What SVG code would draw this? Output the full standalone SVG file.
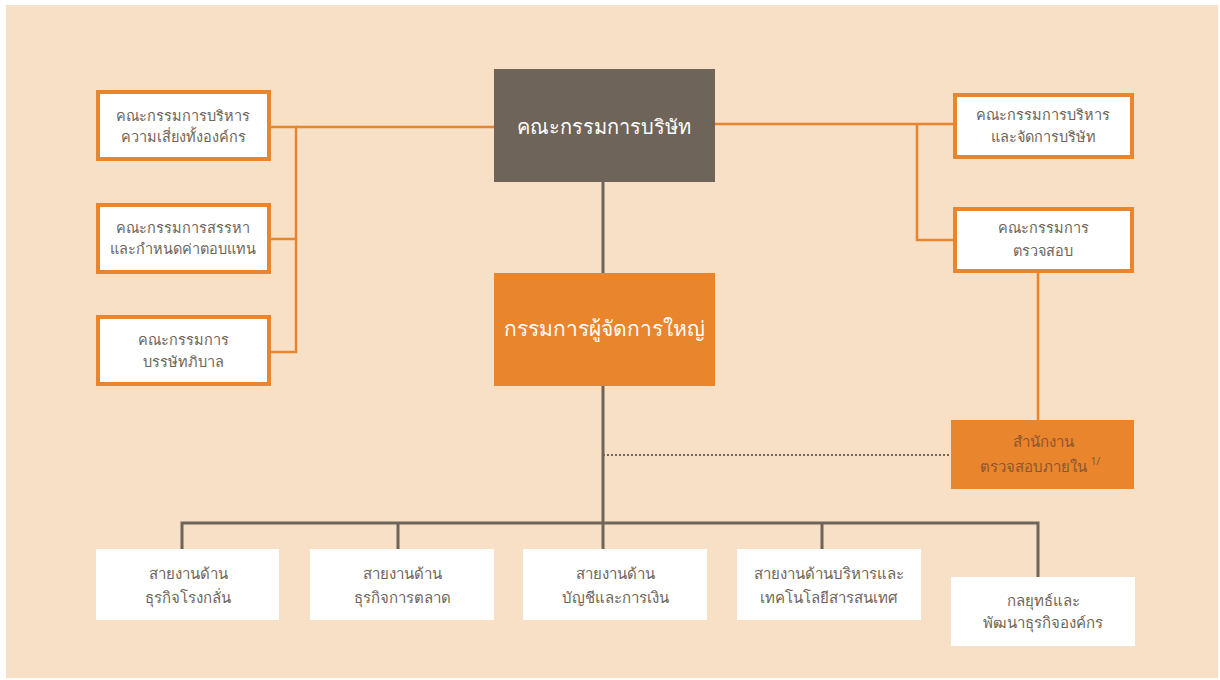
<svg xmlns="http://www.w3.org/2000/svg" width="1220" height="680" viewBox="0 0 1220 680">
<style>
.t{font-family:"Noto Sans","DejaVu Sans",sans-serif;text-anchor:middle;}
.s{font-size:14.5px;fill:#6E645A;}
.b{font-size:15px;fill:#6E645A;}
.a{font-size:15px;fill:#8C5530;}
.big{font-size:20px;fill:#ffffff;}
.ob{fill:#ffffff;stroke:#E9852D;stroke-width:4;}
.wb{fill:#ffffff;}
.gl{stroke:#6E645A;stroke-width:3;fill:none;}
.ol{stroke:#E9852D;stroke-width:2.5;fill:none;}
</style>
<rect x="0" y="0" width="1220" height="680" fill="#ffffff"/>
<rect x="6" y="5" width="1212" height="673" fill="#F8E0C6"/>
<g id="connectors">
<polyline class="ol" points="269,127 296,127 296,352 269,352"/>
<line class="ol" x1="269" y1="239" x2="296" y2="239"/>
<line class="ol" x1="296" y1="127" x2="494" y2="127"/>
<line class="ol" x1="715" y1="124" x2="953" y2="124"/>
<polyline class="ol" points="917,124 917,240 953,240"/>
<line class="ol" x1="1038" y1="272" x2="1038" y2="420"/>
<line class="gl" x1="603" y1="182" x2="603" y2="273"/>
<line class="gl" x1="603" y1="386" x2="603" y2="549"/>
<line x1="603" y1="455" x2="951" y2="455" stroke="#6E645A" stroke-width="2" stroke-dasharray="2,2"/>
<polyline class="gl" points="182,549 182,523 1038,523 1038,577"/>
<line class="gl" x1="398" y1="523" x2="398" y2="549"/>
<line class="gl" x1="822" y1="523" x2="822" y2="549"/>
</g>
<g id="risk">
<rect class="ob" x="98" y="92" width="171" height="67"/>
<text class="t s" x="183" y="121">คณะกรรมการบริหาร</text>
<text class="t s" x="183" y="142">ความเสี่ยงทั้งองค์กร</text>
</g>
<g id="nomination">
<rect class="ob" x="98" y="205" width="171" height="67"/>
<text class="t s" x="183" y="233">คณะกรรมการสรรหา</text>
<text class="t s" x="183" y="254">และกำหนดค่าตอบแทน</text>
</g>
<g id="governance">
<rect class="ob" x="98" y="317" width="171" height="67"/>
<text class="t s" x="183" y="345">คณะกรรมการ</text>
<text class="t s" x="183" y="367">บรรษัทภิบาล</text>
</g>
<g id="board">
<rect x="494" y="69" width="221" height="113" fill="#6E645A"/>
<text class="t big" x="604" y="134">คณะกรรมการบริษัท</text>
</g>
<g id="ceo">
<rect x="494" y="273" width="221" height="113" fill="#E9852D"/>
<text class="t big" x="604" y="336" font-size="21" style="font-size:21px">กรรมการผู้จัดการใหญ่</text>
</g>
<g id="executive">
<rect class="ob" x="955" y="95" width="177" height="62"/>
<text class="t s" x="1043" y="120">คณะกรรมการบริหาร</text>
<text class="t s" x="1043" y="142">และจัดการบริษัท</text>
</g>
<g id="audit">
<rect class="ob" x="955" y="209" width="177" height="62"/>
<text class="t s" x="1043" y="233">คณะกรรมการ</text>
<text class="t s" x="1043" y="256">ตรวจสอบ</text>
</g>
<g id="internal-audit">
<rect x="951" y="420" width="183" height="69" fill="#E9852D"/>
<text class="t a" x="1043" y="447">สำนักงาน</text>
<text class="t a" x="1040" y="472">ตรวจสอบภายใน <tspan font-size="10" dy="-7">1/</tspan></text>
</g>
<g id="refinery">
<rect class="wb" x="96" y="549" width="183" height="71"/>
<text class="t b" x="188" y="579">สายงานด้าน</text>
<text class="t b" x="188" y="603">ธุรกิจโรงกลั่น</text>
</g>
<g id="marketing">
<rect class="wb" x="310" y="549" width="184" height="71"/>
<text class="t b" x="402" y="579">สายงานด้าน</text>
<text class="t b" x="402" y="603">ธุรกิจการตลาด</text>
</g>
<g id="finance">
<rect class="wb" x="523" y="549" width="184" height="71"/>
<text class="t b" x="615" y="579">สายงานด้าน</text>
<text class="t b" x="615" y="603">บัญชีและการเงิน</text>
</g>
<g id="it">
<rect class="wb" x="737" y="549" width="184" height="71"/>
<text class="t b" x="829" y="579">สายงานด้านบริหารและ</text>
<text class="t b" x="829" y="603">เทคโนโลยีสารสนเทศ</text>
</g>
<g id="strategy">
<rect class="wb" x="951" y="577" width="184" height="69"/>
<text class="t b" x="1043" y="606">กลยุทธ์และ</text>
<text class="t b" x="1043" y="628">พัฒนาธุรกิจองค์กร</text>
</g>
</svg>
